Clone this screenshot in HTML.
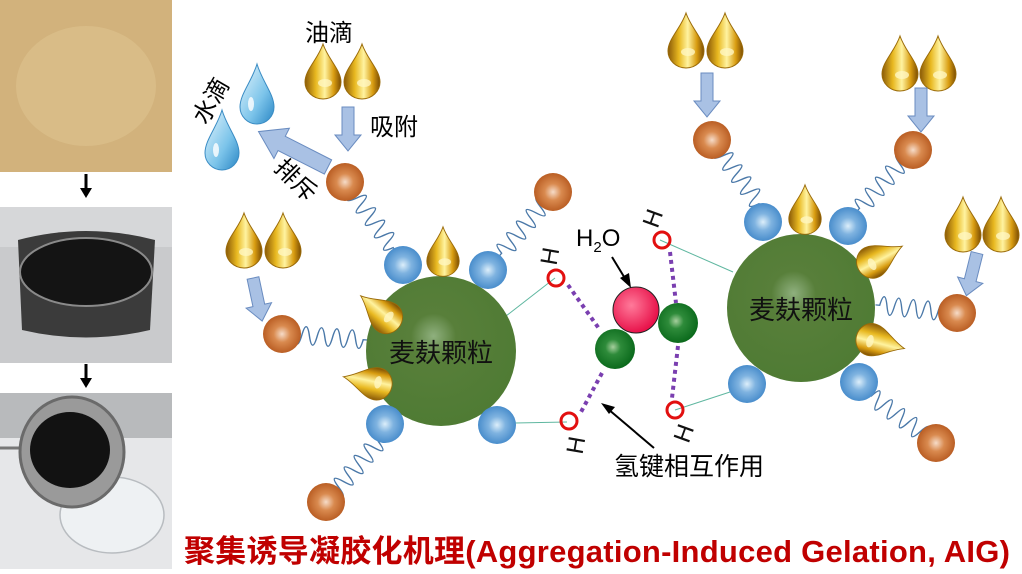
<!DOCTYPE html>
<html><head><meta charset="utf-8"><style>
html,body{margin:0;padding:0;background:#fff;width:1022px;height:574px;overflow:hidden}
svg{display:block}
text{font-family:"Liberation Sans","Noto Sans CJK SC",sans-serif}
</style></head><body>
<svg width="1022" height="574" viewBox="0 0 1022 574" xmlns="http://www.w3.org/2000/svg">
<defs>
<radialGradient id="og" cx="0.5" cy="0.5" r="0.55"><stop offset="0" stop-color="#f6dcc8"/><stop offset="0.4" stop-color="#d98a4f"/><stop offset="1" stop-color="#b4561c"/></radialGradient>
<radialGradient id="bg" cx="0.5" cy="0.5" r="0.55"><stop offset="0" stop-color="#dceefa"/><stop offset="0.4" stop-color="#7fb3e0"/><stop offset="1" stop-color="#3f86c8"/></radialGradient>
<radialGradient id="gg" cx="0.45" cy="0.45" r="0.55"><stop offset="0" stop-color="#a6cf9d"/><stop offset="0.35" stop-color="#2e8b3a"/><stop offset="1" stop-color="#0b6a1c"/></radialGradient>
<radialGradient id="rg" cx="0.4" cy="0.4" r="0.6"><stop offset="0" stop-color="#ff7a9a"/><stop offset="1" stop-color="#e8124a"/></radialGradient>
<radialGradient id="big" cx="0.45" cy="0.4" r="0.6"><stop offset="0" stop-color="#8fb07e"/><stop offset="0.25" stop-color="#587f3a"/><stop offset="1" stop-color="#4f7b34"/></radialGradient>
<linearGradient id="dg" x1="0" y1="0" x2="1" y2="0"><stop offset="0" stop-color="#8a5a08"/><stop offset="0.3" stop-color="#e8b820"/><stop offset="0.55" stop-color="#fff3a0"/><stop offset="0.8" stop-color="#d89c10"/><stop offset="1" stop-color="#7a4c04"/></linearGradient>
<linearGradient id="wg" x1="0" y1="0" x2="1" y2="1"><stop offset="0" stop-color="#e8f6fd"/><stop offset="0.6" stop-color="#7cc4ea"/><stop offset="1" stop-color="#2a86c4"/></linearGradient>
<g id="drop"><path d="M0,-28 C5,-13 18,-2 18,10 A18,17 0 0 1 -18,10 C-18,-2 -5,-13 0,-28Z" fill="url(#dg)" stroke="#9a6a08" stroke-width="1"/><ellipse cx="2" cy="11" rx="7" ry="4" fill="#fff6c0" opacity="0.8"/></g>
<g id="wdrop"><path d="M0,-32 C5,-15 17,-2 17,11 A17,17 0 0 1 -17,11 C-17,-2 -5,-15 0,-32Z" fill="url(#wg)" stroke="#3a8cc4" stroke-width="1"/><ellipse cx="-6" cy="8" rx="3" ry="7" fill="#fff" opacity="0.8"/></g>
<path id="spring" d="M0,0 l4,0 q3.5,-18 7,0 t7,0 t7,0 t7,0 t7,0 t7,0 t7,0 t7,0 t7,0 t7,0 l4,0" fill="none" stroke="#4a78a8" stroke-width="1.3"/>
<g id="dar"><path d="M-6,0 h12 v28 h7 l-13,16 l-13,-16 h7z" fill="#a9c1e4" stroke="#6a8cc0" stroke-width="1"/></g>
<g id="bar"><path d="M-8,0 h16 v52 h9 l-17,26 l-17,-26 h9z" fill="#a9c1e4" stroke="#6a8cc0" stroke-width="1"/></g>
</defs>

<!-- photos -->
<rect x="0" y="0" width="172" height="172" fill="#d2b27c"/>
<ellipse cx="86" cy="86" rx="70" ry="60" fill="#dcc08c" opacity="0.7"/>
<path d="M86,174 v16" stroke="#000" stroke-width="3"/><path d="M80,188 h12 l-6,10z" fill="#000"/>
<rect x="0" y="207" width="172" height="156" fill="#c9cacc"/>
<rect x="0" y="207" width="172" height="40" fill="#d6d7d9"/>
<path d="M18,240 Q86,222 155,240 L150,330 Q86,345 22,330Z" fill="#3b3b3b"/>
<ellipse cx="86" cy="272" rx="66" ry="34" fill="#141414"/>
<ellipse cx="86" cy="272" rx="66" ry="34" fill="none" stroke="#8a8a8a" stroke-width="2"/>
<path d="M86,364 v16" stroke="#000" stroke-width="3"/><path d="M80,378 h12 l-6,10z" fill="#000"/>
<rect x="0" y="393" width="172" height="176" fill="#e6e7e9"/>
<rect x="0" y="393" width="172" height="45" fill="#b8babc"/>
<ellipse cx="112" cy="515" rx="52" ry="38" fill="#eef1f3" stroke="#b8bcc0" stroke-width="1.5"/>
<path d="M0,448 h25" stroke="#777" stroke-width="3"/>
<ellipse cx="72" cy="452" rx="52" ry="55" fill="#9a9a9a" stroke="#6a6a6a" stroke-width="3"/>
<ellipse cx="70" cy="450" rx="40" ry="38" fill="#121212"/>

<!-- connectors teal -->
<g stroke="#5fb7a0" stroke-width="1" fill="none">
<path d="M555,278 L506,316"/><path d="M567,422 L515,423"/><path d="M660,240 L733,272"/><path d="M675,410 L730,392"/>
</g>
<!-- springs -->
<use href="#spring" transform="translate(345,182) rotate(53.7) scale(1.1,1)"/>
<use href="#spring" transform="translate(553,192) rotate(130) scale(1.08,1)"/>
<use href="#spring" transform="translate(282,334) rotate(4) scale(1.1,1)"/>
<use href="#spring" transform="translate(326,502) rotate(-49) scale(1.08,1)"/>
<use href="#spring" transform="translate(712,140) rotate(53.6) scale(1.07,1)"/>
<use href="#spring" transform="translate(913,150) rotate(132.5) scale(1.07,1)"/>
<use href="#spring" transform="translate(957,313) rotate(185.7) scale(1.05,1)"/>
<use href="#spring" transform="translate(936,443) rotate(216) scale(1.08,1)"/>

<!-- big particles -->
<circle cx="441" cy="351" r="75" fill="url(#big)"/>
<circle cx="801" cy="308" r="74" fill="url(#big)"/>
<text x="441" y="362" font-size="26" text-anchor="middle" fill="#111">麦麸颗粒</text>
<text x="801" y="319" font-size="26" text-anchor="middle" fill="#111">麦麸颗粒</text>

<!-- blue balls -->
<g fill="url(#bg)">
<circle cx="403" cy="265" r="19"/><circle cx="488" cy="270" r="19"/><circle cx="385" cy="424" r="19"/><circle cx="497" cy="425" r="19"/>
<circle cx="763" cy="222" r="19"/><circle cx="848" cy="226" r="19"/><circle cx="747" cy="384" r="19"/><circle cx="859" cy="382" r="19"/>
</g>
<!-- orange balls -->
<g fill="url(#og)">
<circle cx="345" cy="182" r="19"/><circle cx="553" cy="192" r="19"/><circle cx="282" cy="334" r="19"/><circle cx="326" cy="502" r="19"/>
<circle cx="712" cy="140" r="19"/><circle cx="913" cy="150" r="19"/><circle cx="957" cy="313" r="19"/><circle cx="936" cy="443" r="19"/>
</g>

<!-- oil drops -->
<use href="#drop" transform="translate(323,72)"/><use href="#drop" transform="translate(362,72)"/>
<use href="#drop" transform="translate(244,241)"/><use href="#drop" transform="translate(283,241)"/>
<use href="#drop" transform="translate(686,41)"/><use href="#drop" transform="translate(725,41)"/>
<use href="#drop" transform="translate(900,64)"/><use href="#drop" transform="translate(938,64)"/>
<use href="#drop" transform="translate(963,225)"/><use href="#drop" transform="translate(1001,225)"/>
<use href="#drop" transform="translate(443,252) scale(0.9)"/>
<use href="#drop" transform="translate(380,312) rotate(-50) scale(0.9)"/>
<use href="#drop" transform="translate(368,382) rotate(-78) scale(0.9)"/>
<use href="#drop" transform="translate(805,210) scale(0.9)"/>
<use href="#drop" transform="translate(880,258) rotate(62) scale(0.9)"/>
<use href="#drop" transform="translate(880,342) rotate(105) scale(0.9)"/>

<!-- water drops -->
<use href="#wdrop" transform="translate(257,96)"/>
<use href="#wdrop" transform="translate(222,142)"/>

<!-- arrows -->
<use href="#dar" transform="translate(348,107)"/>
<use href="#dar" transform="translate(253,278) rotate(-12)"/>
<use href="#dar" transform="translate(707,73)"/>
<use href="#dar" transform="translate(921,88)"/>
<use href="#dar" transform="translate(977,253) rotate(14)"/>
<use href="#bar" transform="translate(328,167) rotate(117)"/>

<!-- labels -->
<text x="329" y="41" font-size="24" text-anchor="middle">油滴</text>
<text x="394" y="135" font-size="24" text-anchor="middle">吸附</text>
<text x="0" y="0" font-size="24" text-anchor="middle" transform="translate(218,105) rotate(-60)">水滴</text>
<text x="0" y="0" font-size="24" text-anchor="middle" transform="translate(290,186) rotate(45)">排斥</text>

<!-- hydrogen bonds -->
<g stroke="#7a3fb0" stroke-width="4" stroke-dasharray="4,4" fill="none">
<path d="M568,285 L600,330"/><path d="M602,373 L581,412"/><path d="M670,252 L676,303"/><path d="M678,346 L672,398"/>
</g>
<circle cx="636" cy="310" r="23" fill="url(#rg)" stroke="#222" stroke-width="1"/>
<circle cx="615" cy="349" r="20" fill="url(#gg)"/>
<circle cx="678" cy="323" r="20" fill="url(#gg)"/>
<g fill="none" stroke="#e21010" stroke-width="3">
<circle cx="556" cy="278" r="8"/><circle cx="662" cy="240" r="8"/><circle cx="569" cy="421" r="8"/><circle cx="675" cy="410" r="8"/>
</g>
<g font-size="24" fill="#111" text-anchor="middle">
<text transform="translate(549,256) rotate(-80)" y="9">H</text>
<text transform="translate(652,218) rotate(-70)" y="9">H</text>
<text transform="translate(575,445) rotate(-80)" y="9">H</text>
<text transform="translate(683,433) rotate(-70)" y="9">H</text>
</g>
<text x="576" y="246" font-size="24">H<tspan font-size="15" dy="6">2</tspan><tspan dy="-6">O</tspan></text>
<path d="M612,257 L626,280" stroke="#000" stroke-width="2"/><path d="M631,288 L620,278 L629,273z" fill="#000"/>
<path d="M654,448 L608,409" stroke="#000" stroke-width="2"/><path d="M601,403 L615,407 L609,414z" fill="#000"/>
<text x="689" y="475" font-size="25" text-anchor="middle">氢键相互作用</text>

<text x="597" y="562" font-size="31" font-weight="bold" fill="#c00000" text-anchor="middle" textLength="826">聚集诱导凝胶化机理(Aggregation-Induced Gelation, AIG)</text>
</svg>
</body></html>
